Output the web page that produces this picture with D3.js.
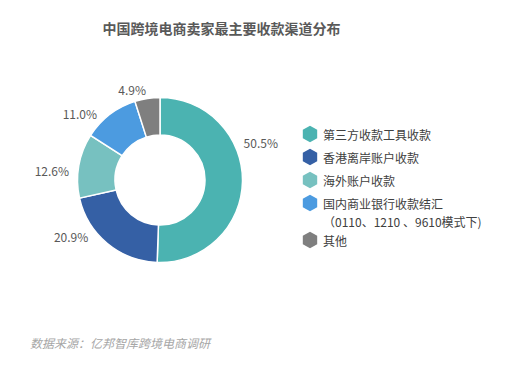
<!DOCTYPE html>
<html><head><meta charset="utf-8">
<script src="https://cdn.jsdelivr.net/npm/d3@7"></script>
<style>
html,body{margin:0;padding:0;background:#fff;}
svg{display:block;font-family:"Noto Sans CJK SC","Noto Sans",sans-serif;}
</style></head>
<body>
<svg id="chart" width="519" height="368"></svg>
<script>
const title = "中国跨境电商卖家最主要收款渠道分布";
const source = "数据来源：亿邦智库跨境电商调研";
const categories = ["第三方收款工具收款","香港离岸账户收款","海外账户收款","国内商业银行收款结汇","其他"];
const legendSubLines = ["","","","（0110、1210 、9610模式下)",""];
const values = [50.5, 20.9, 12.6, 11.0, 4.9];
const valueLabels = ["50.5%","20.9%","12.6%","11.0%","4.9%"];
const colors = ["#4BB3B1","#3560A5","#77C1C0","#4C9BE0","#7F7F7F"];
// label layout nudges (degrees) – layout only
const labelShiftDeg = [-25, 12, -4, -6, 0];

const svg = d3.select("#chart");
const cx = 160, cy = 180, rOuter = 82.5, rInner = 45;

svg.append("text").attr("x", 221.5).attr("y", 27.5)
  .attr("text-anchor","middle").attr("dominant-baseline","central")
  .attr("font-size",14).attr("font-weight","bold").attr("fill","#595959").text(title);

const pie = d3.pie().sort(null).value(d => d)(values);
const arc = d3.arc().innerRadius(rInner).outerRadius(rOuter);
const g = svg.append("g").attr("transform",`translate(${cx},${cy})`);
g.selectAll("path").data(pie).join("path")
  .attr("d", arc).attr("fill",(d,i)=>colors[i])
  .attr("stroke","#fff").attr("stroke-width",1.5);

const labelR = rOuter + 9;
g.selectAll("text.lbl").data(pie).join("text").attr("class","lbl")
  .each(function(d,i){
    const a = (d.startAngle + d.endAngle)/2 + labelShiftDeg[i]*Math.PI/180;
    const x = labelR*Math.sin(a), y = -labelR*Math.cos(a);
    d3.select(this).attr("x",x).attr("y",y)
      .attr("text-anchor", x >= 0 ? "start" : "end");
  })
  .attr("dominant-baseline","central")
  .attr("font-size",12).attr("fill","#595959")
  .text((d,i)=>valueLabels[i]);

// legend
const hex = d3.line()(d3.range(6).map(k => {
  const a = (-90 + 60*k) * Math.PI/180;
  return [8.3*Math.cos(a), 8.3*Math.sin(a)];
})) + "Z";
let ly = 134;
const lg = svg.append("g");
categories.forEach((c,i) => {
  lg.append("path").attr("d",hex).attr("transform",`translate(310,${ly})`).attr("fill",colors[i]);
  lg.append("text").attr("x",323).attr("y",ly).attr("dominant-baseline","central")
    .attr("font-size",12).attr("fill","#404040").text(c);
  if (legendSubLines[i]) {
    lg.append("text").attr("x",323).attr("y",ly+18).attr("dominant-baseline","central")
      .attr("font-size",12).attr("fill","#404040").text(legendSubLines[i]);
    ly += 14;
  }
  ly += 23;
});

svg.append("text").attr("x",30).attr("y",342).attr("dominant-baseline","central")
  .attr("font-size",12).attr("font-style","italic").attr("fill","#A6A6A6").text(source);
</script>
</body></html>
